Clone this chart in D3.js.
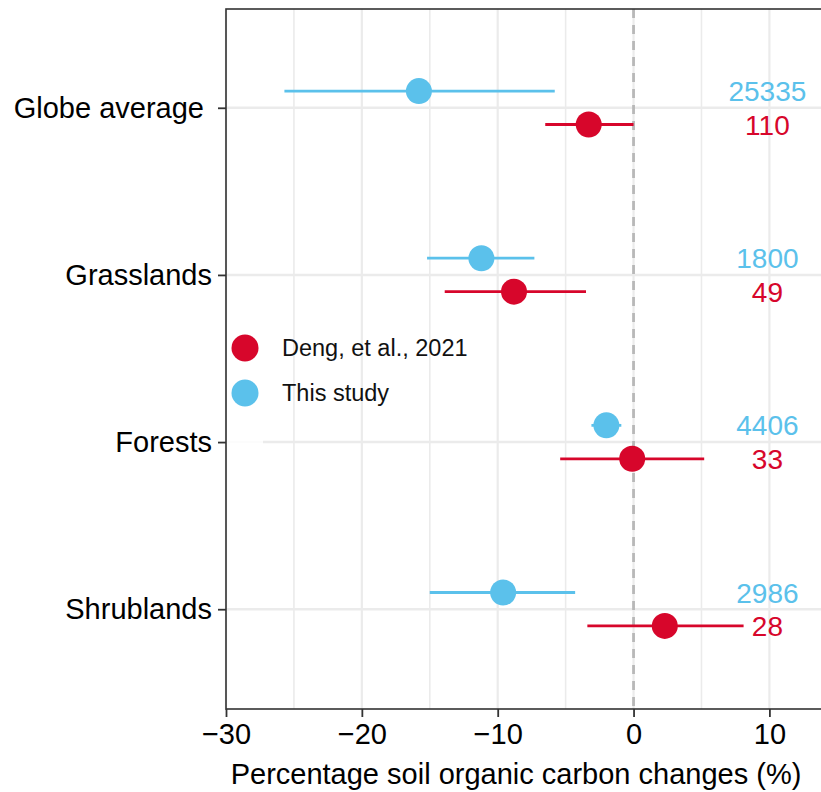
<!DOCTYPE html>
<html>
<head>
<meta charset="utf-8">
<script src="https://cdn.jsdelivr.net/npm/d3@7/dist/d3.min.js"></script>
<style>
  html, body { margin: 0; padding: 0; background: #fff; }
  svg { display: block; font-family: "Liberation Sans", Arial, Helvetica, sans-serif; }
</style>
</head>
<body>
<svg id="chart" width="821" height="792"></svg>
<script>
// Biome categories (top to bottom)
const categories = ["Globe average ", "Grasslands", "Forests", "Shrublands"];

// This study: mean change (%) with lower / upper bounds, and sample sizes
const studyMean  = [-15.8, -11.2, -2.0, -9.6];
const studyLow   = [-25.7, -15.2, -3.1, -15.0];
const studyHigh  = [-5.8,  -7.3,  -0.9, -4.3];
const studyN     = [25335, 1800, 4406, 2986];

// Deng, et al., 2021: mean change (%) with lower / upper bounds, and sample sizes
const dengMean   = [-3.3, -8.8, -0.1, 2.3];
const dengLow    = [-6.5, -13.9, -5.4, -3.4];
const dengHigh   = [0.0,  -3.5,  5.2,  8.1];
const dengN      = [110, 49, 33, 28];

const xMajorTicks = [-30, -20, -10, 0, 10];
const xMinorTicks = [-25, -15, -5, 5];

const legendLabels = ["Deng, et al., 2021", "This study"];

const RED = "#d7062b";
const BLUE = "#5bc1eb";

const svg = d3.select("#chart");

const panel = { left: 226, top: 9, right: 840, bottom: 709 };

const x = d3.scaleLinear().domain([-30, 10]).range([226, 769.4]);
const y = d3.scalePoint().domain(categories).range([panel.top - 1.5, panel.bottom + 0.5]).padding(0.6);
const dodge = y.step() * 0.1;

const series = [
  { name: "study", color: BLUE, off: -dodge, mean: studyMean, low: studyLow, high: studyHigh, n: studyN },
  { name: "deng",  color: RED,  off:  dodge, mean: dengMean,  low: dengLow,  high: dengHigh,  n: dengN }
];

// panel background
svg.append("rect")
  .attr("x", panel.left).attr("y", panel.top)
  .attr("width", panel.right - panel.left).attr("height", panel.bottom - panel.top)
  .attr("fill", "#fff");

const grid = svg.append("g");
grid.selectAll(".vminor").data(xMinorTicks).join("line")
  .attr("x1", d => x(d)).attr("x2", d => x(d))
  .attr("y1", panel.top).attr("y2", panel.bottom)
  .attr("stroke", "#ebebeb").attr("stroke-width", 1.6);
grid.selectAll(".vmajor").data(xMajorTicks).join("line")
  .attr("x1", d => x(d)).attr("x2", d => x(d))
  .attr("y1", panel.top).attr("y2", panel.bottom)
  .attr("stroke", "#ebebeb").attr("stroke-width", 2.2);
grid.selectAll(".hmajor").data(categories).join("line")
  .attr("x1", panel.left).attr("x2", panel.right)
  .attr("y1", d => y(d)).attr("y2", d => y(d))
  .attr("stroke", "#ebebeb").attr("stroke-width", 2.6);

// reference line at zero change
svg.append("line")
  .attr("x1", x(0)).attr("x2", x(0))
  .attr("y1", panel.top).attr("y2", panel.bottom)
  .attr("stroke", "#b8b8b8").attr("stroke-width", 2.8)
  .attr("stroke-dasharray", "9,7");

// error bars, points and sample-size labels
series.forEach(s => {
  const g = svg.append("g");
  const rows = categories.map((c, i) => ({ c, m: s.mean[i], lo: s.low[i], hi: s.high[i], n: s.n[i] }));
  g.selectAll("line").data(rows).join("line")
    .attr("x1", d => x(d.lo)).attr("x2", d => x(d.hi))
    .attr("y1", d => y(d.c) + s.off).attr("y2", d => y(d.c) + s.off)
    .attr("stroke", s.color).attr("stroke-width", 2.8);
  g.selectAll("circle").data(rows).join("circle")
    .attr("cx", d => x(d.m)).attr("cy", d => y(d.c) + s.off)
    .attr("r", 13).attr("fill", s.color);
  g.selectAll("text").data(rows).join("text")
    .attr("x", x(10) - 2).attr("y", d => y(d.c) + s.off)
    .attr("dy", "0.36em")
    .attr("text-anchor", "middle")
    .attr("font-size", 28)
    .attr("fill", s.color)
    .text(d => d.n);
});

// legend
const legend = svg.append("g");
legend.append("rect")
  .attr("x", 227).attr("y", 322).attr("width", 36).attr("height", 125)
  .attr("fill", "#fff").attr("opacity", 0.85);
const legendColors = [RED, BLUE];
legendLabels.forEach((lab, i) => {
  const cy = 348 + i * 45;
  legend.append("circle").attr("cx", 245).attr("cy", cy).attr("r", 13.5).attr("fill", legendColors[i]);
  legend.append("text").attr("x", 282).attr("y", cy).attr("dy", "0.36em")
    .attr("font-size", 23.5).attr("fill", "#111").text(lab);
});

// panel border
svg.append("rect")
  .attr("x", panel.left).attr("y", panel.top)
  .attr("width", panel.right - panel.left).attr("height", panel.bottom - panel.top)
  .attr("fill", "none").attr("stroke", "#333").attr("stroke-width", 1.6);

// x axis
const xAxis = svg.append("g")
  .attr("transform", `translate(0,${panel.bottom})`)
  .call(d3.axisBottom(x).tickValues(xMajorTicks).tickSize(8).tickPadding(6)
    .tickFormat(d => d < 0 ? "\u2212" + Math.abs(d) : String(d)));
xAxis.select(".domain").remove();
xAxis.selectAll(".tick line").attr("stroke", "#333").attr("stroke-width", 1.8);
xAxis.selectAll(".tick text").attr("font-size", 29).attr("fill", "#000")
  .attr("font-family", "Liberation Sans, Arial, sans-serif");

// y axis
const yAxis = svg.append("g")
  .attr("transform", `translate(${panel.left},0)`)
  .call(d3.axisLeft(y).tickSize(8).tickPadding(6));
yAxis.select(".domain").remove();
yAxis.selectAll(".tick line").attr("stroke", "#333").attr("stroke-width", 1.8);
yAxis.selectAll(".tick text").attr("font-size", 29).attr("fill", "#000")
  .style("white-space", "pre")
  .attr("font-family", "Liberation Sans, Arial, sans-serif");

// x axis title
svg.append("text")
  .attr("x", 516).attr("y", 784)
  .attr("text-anchor", "middle")
  .attr("font-size", 29).attr("fill", "#000")
  .text("Percentage soil organic carbon changes (%)");
</script>
</body>
</html>
